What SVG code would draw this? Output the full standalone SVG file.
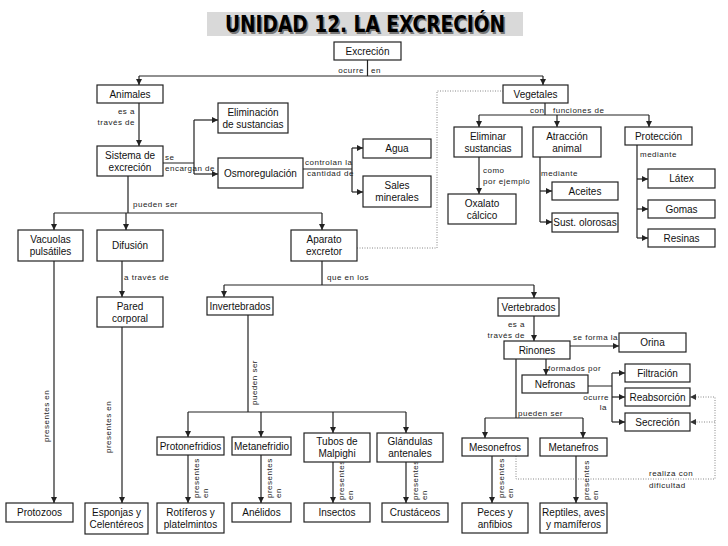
<svg xmlns="http://www.w3.org/2000/svg" width="728" height="546" viewBox="0 0 728 546">
<defs>
<style>
.b{fill:#fff;stroke:#222;stroke-width:1.2}
.t{font-family:"Liberation Sans",Arial,sans-serif;font-size:10px;text-anchor:middle;fill:#111}
.l{font-family:"Liberation Sans",Arial,sans-serif;font-size:8px;letter-spacing:0.5px;fill:#222}
.e{text-anchor:end}
.c{fill:none;stroke:#222;stroke-width:1.2}
.a{marker-end:url(#ar)}
.d{fill:none;stroke:#888;stroke-width:1;stroke-dasharray:1 1.5}
.title{font-family:"DejaVu Sans Condensed","DejaVu Sans",sans-serif;font-weight:bold;font-size:23px;text-anchor:middle}
</style>
<marker id="ar" viewBox="0 0 10 10" refX="10" refY="5" markerWidth="7" markerHeight="6" markerUnits="userSpaceOnUse" orient="auto"><path d="M0,0 L10,5 L0,10 z" fill="#222"/></marker>
<marker id="ad" viewBox="0 0 10 10" refX="10" refY="5" markerWidth="7" markerHeight="6" markerUnits="userSpaceOnUse" orient="auto"><path d="M0,0 L10,5 L0,10 z" fill="#333"/></marker>
</defs>
<rect width="728" height="546" fill="#fff"/>
<g id="title">
<rect x="207" y="12" width="316" height="24" fill="#d9d9d9"/>
<text class="title" x="366.5" y="33.5" textLength="280" lengthAdjust="spacingAndGlyphs" fill="#777">UNIDAD 12. LA EXCRECIÓN</text>
<text class="title" x="365" y="32" textLength="280" lengthAdjust="spacingAndGlyphs" fill="#000">UNIDAD 12. LA EXCRECIÓN</text>
</g>
<g id="connectors">
<path class="c" d="M367.5,60 V76 M139,76 H543 M163,163 H194 M194,120 V174 M303,169 H352 M352,148 V192 M128,176 V213 M54,213 H322 M322,261 V285 M224,285 H534 M248,315 V412 M188,412 H406 M545,103 V115 M479,115 H649 M540,157 V222 M637,145 V238 M588,386 H612 M612,373 V422 M516,359 V418 M485,418 H583"/>
<path class="c a" d="M139,76 V85"/>
<path class="c a" d="M543,76 V85"/>
<path class="c a" d="M139,103 V146"/>
<path class="c a" d="M194,120 H218"/>
<path class="c a" d="M194,174 H218"/>
<path class="c a" d="M352,148 H363"/>
<path class="c a" d="M352,192 H363"/>
<path class="c a" d="M54,213 V230"/>
<path class="c a" d="M126,213 V230"/>
<path class="c a" d="M322,213 V230"/>
<path class="c a" d="M122,261 V297"/>
<path class="c a" d="M54,261 V503"/>
<path class="c a" d="M122,327 V503"/>
<path class="c a" d="M224,285 V297"/>
<path class="c a" d="M534,285 V298"/>
<path class="c a" d="M188,412 V437"/>
<path class="c a" d="M261,412 V437"/>
<path class="c a" d="M333,412 V433"/>
<path class="c a" d="M406,412 V433"/>
<path class="c a" d="M188,455 V503"/>
<path class="c a" d="M261,455 V503"/>
<path class="c a" d="M333,462 V503"/>
<path class="c a" d="M406,462 V503"/>
<path class="c a" d="M479,115 V127"/>
<path class="c a" d="M557,115 V127"/>
<path class="c a" d="M649,115 V127"/>
<path class="c a" d="M479,157 V194"/>
<path class="c a" d="M540,191 H552"/>
<path class="c a" d="M540,222 H552"/>
<path class="c a" d="M637,179 H648"/>
<path class="c a" d="M637,209 H648"/>
<path class="c a" d="M637,238 H648"/>
<path class="c a" d="M534,316 V341"/>
<path class="c a" d="M570,346 H619"/>
<path class="c a" d="M546,359 V375"/>
<path class="c a" d="M612,373 H625"/>
<path class="c a" d="M612,397 H625"/>
<path class="c a" d="M612,422 H625"/>
<path class="c a" d="M485,418 V438"/>
<path class="c a" d="M583,418 V438"/>
<path class="c a" d="M492,456 V503"/>
<path class="c a" d="M576,456 V503"/>
<path class="d" d="M357,248 H437 V91 H503"/>
<path class="d" d="M516,456 V479 H715 V397 H690" marker-end="url(#ad)"/>
<path class="d" d="M715,422 H690" marker-end="url(#ad)"/>
<text class="l e" x="364" y="73">ocurre</text>
<text class="l" x="371" y="73">en</text>
<text class="l e" x="135" y="114">es a</text>
<text class="l e" x="135" y="125">través de</text>
<text class="l" x="165" y="160">se</text>
<text class="l" x="165" y="171">encargan de</text>
<text class="l" x="305" y="165">controlan la</text>
<text class="l" x="307" y="176">cantidad de</text>
<text class="l" x="133" y="207">pueden ser</text>
<text class="l" x="124" y="280">a través de</text>
<text class="l" x="327" y="280">que en los</text>
<text class="l" x="530" y="113">con</text>
<text class="l" x="553" y="113">funciones de</text>
<text class="l" x="483" y="173">como</text>
<text class="l" x="483" y="184">por ejemplo</text>
<text class="l" x="541" y="176">mediante</text>
<text class="l" x="640" y="157">mediante</text>
<text class="l e" x="525" y="327">es a</text>
<text class="l e" x="525" y="338">través de</text>
<text class="l" x="573" y="340">se forma la</text>
<text class="l" x="548" y="371">formados por</text>
<text class="l e" x="609" y="400">ocurre</text>
<text class="l e" x="607" y="410">la</text>
<text class="l" x="518" y="416">pueden ser</text>
<text class="l" x="649" y="476">realiza con</text>
<text class="l" x="649" y="488">dificultad</text>
<text class="l" transform="translate(49,442) rotate(-90)">presentes en</text>
<text class="l" transform="translate(111,453) rotate(-90)">presentes en</text>
<text class="l" transform="translate(257,405) rotate(-90)">pueden ser</text>
<text class="l" transform="translate(199,498) rotate(-90)"><tspan x="0" y="0">presentes</tspan><tspan x="0" y="9">en</tspan></text>
<text class="l" transform="translate(272,498) rotate(-90)"><tspan x="0" y="0">presentes</tspan><tspan x="0" y="9">en</tspan></text>
<text class="l" transform="translate(344,500) rotate(-90)"><tspan x="0" y="0">presentes</tspan><tspan x="0" y="9">en</tspan></text>
<text class="l" transform="translate(418,500) rotate(-90)"><tspan x="0" y="0">presentes</tspan><tspan x="0" y="9">en</tspan></text>
<text class="l" transform="translate(504,498) rotate(-90)"><tspan x="0" y="0">presentes</tspan><tspan x="0" y="9">en</tspan></text>
<text class="l" transform="translate(589,500) rotate(-90)"><tspan x="0" y="0">presentes</tspan><tspan x="0" y="9">en</tspan></text>
</g>
<g id="n-excrecion"><rect class="b" x="334" y="42" width="67" height="18"/><text class="t" x="367.5" y="55">Excreción</text></g>
<g id="n-animales"><rect class="b" x="97" y="85" width="66" height="18"/><text class="t" x="130" y="98">Animales</text></g>
<g id="n-vegetales"><rect class="b" x="503" y="85" width="65" height="18"/><text class="t" x="535.5" y="98">Vegetales</text></g>
<g id="n-sistema"><rect class="b" x="97" y="146" width="66" height="30"/><text class="t" x="130" y="158.5">Sistema de</text><text class="t" x="130" y="170.5">excreción</text></g>
<g id="n-eliminacion"><rect class="b" x="218" y="103" width="70" height="30"/><text class="t" x="253" y="115.5">Eliminación</text><text class="t" x="253" y="127.5">de sustancias</text></g>
<g id="n-osmo"><rect class="b" x="218" y="158" width="85" height="30"/><text class="t" x="260.5" y="177">Osmoregulación</text></g>
<g id="n-agua"><rect class="b" x="363" y="139" width="68" height="19"/><text class="t" x="397" y="152">Agua</text></g>
<g id="n-sales"><rect class="b" x="363" y="176" width="68" height="31"/><text class="t" x="397" y="188.5">Sales</text><text class="t" x="397" y="200.5">minerales</text></g>
<g id="n-vacuolas"><rect class="b" x="18" y="230" width="65" height="31"/><text class="t" x="50.5" y="242.5">Vacuolas</text><text class="t" x="50.5" y="254.5">pulsátiles</text></g>
<g id="n-difusion"><rect class="b" x="97" y="230" width="66" height="31"/><text class="t" x="130" y="249">Difusión</text></g>
<g id="n-aparato"><rect class="b" x="291" y="230" width="66" height="31"/><text class="t" x="324" y="242.5">Aparato</text><text class="t" x="324" y="254.5">excretor</text></g>
<g id="n-pared"><rect class="b" x="97" y="297" width="66" height="30"/><text class="t" x="130" y="309.5">Pared</text><text class="t" x="130" y="321.5">corporal</text></g>
<g id="n-invertebrados"><rect class="b" x="207" y="297" width="66" height="18"/><text class="t" x="240" y="310">Invertebrados</text></g>
<g id="n-vertebrados"><rect class="b" x="498" y="298" width="61" height="18"/><text class="t" x="528.5" y="311">Vertebrados</text></g>
<g id="n-rinones"><rect class="b" x="504" y="341" width="66" height="18"/><text class="t" x="537" y="354">Rinones</text></g>
<g id="n-orina"><rect class="b" x="619" y="333" width="67" height="19"/><text class="t" x="652.5" y="346">Orina</text></g>
<g id="n-nefronas"><rect class="b" x="522" y="375" width="66" height="18"/><text class="t" x="555" y="388">Nefronas</text></g>
<g id="n-filtracion"><rect class="b" x="625" y="364" width="65" height="18"/><text class="t" x="657.5" y="377">Filtración</text></g>
<g id="n-reabsorcion"><rect class="b" x="625" y="388" width="65" height="18"/><text class="t" x="657.5" y="401">Reabsorción</text></g>
<g id="n-secrecion"><rect class="b" x="625" y="413" width="65" height="18"/><text class="t" x="657.5" y="426">Secreción</text></g>
<g id="n-eliminar"><rect class="b" x="454" y="127" width="68" height="30"/><text class="t" x="488" y="139.5">Eliminar</text><text class="t" x="488" y="151.5">sustancias</text></g>
<g id="n-atraccion"><rect class="b" x="533" y="127" width="68" height="30"/><text class="t" x="567" y="139.5">Atracción</text><text class="t" x="567" y="151.5">animal</text></g>
<g id="n-proteccion"><rect class="b" x="625" y="127" width="67" height="18"/><text class="t" x="658.5" y="140">Protección</text></g>
<g id="n-oxalato"><rect class="b" x="448" y="194" width="68" height="30"/><text class="t" x="482" y="206.5">Oxalato</text><text class="t" x="482" y="218.5">cálcico</text></g>
<g id="n-aceites"><rect class="b" x="552" y="182" width="66" height="18"/><text class="t" x="585" y="195">Aceites</text></g>
<g id="n-sust"><rect class="b" x="552" y="213" width="66" height="19"/><text class="t" x="585" y="226">Sust. olorosas</text></g>
<g id="n-latex"><rect class="b" x="648" y="169" width="67" height="19"/><text class="t" x="681.5" y="182">Látex</text></g>
<g id="n-gomas"><rect class="b" x="648" y="200" width="67" height="18"/><text class="t" x="681.5" y="213">Gomas</text></g>
<g id="n-resinas"><rect class="b" x="648" y="229" width="67" height="18"/><text class="t" x="681.5" y="242">Resinas</text></g>
<g id="n-protonefridios"><rect class="b" x="157" y="437" width="67" height="18"/><text class="t" x="190.5" y="450">Protonefridios</text></g>
<g id="n-metanefridio"><rect class="b" x="232" y="437" width="59" height="18"/><text class="t" x="261.5" y="450">Metanefridio</text></g>
<g id="n-tubos"><rect class="b" x="304" y="433" width="66" height="29"/><text class="t" x="337" y="445">Tubos de</text><text class="t" x="337" y="457">Malpighi</text></g>
<g id="n-glandulas"><rect class="b" x="377" y="433" width="66" height="29"/><text class="t" x="410" y="445">Glándulas</text><text class="t" x="410" y="457">antenales</text></g>
<g id="n-mesonefros"><rect class="b" x="462" y="438" width="66" height="18"/><text class="t" x="495" y="451">Mesonefros</text></g>
<g id="n-metanefros"><rect class="b" x="540" y="438" width="67" height="18"/><text class="t" x="573.5" y="451">Metanefros</text></g>
<g id="n-protozoos"><rect class="b" x="6" y="503" width="67" height="19"/><text class="t" x="39.5" y="516">Protozoos</text></g>
<g id="n-esponjas"><rect class="b" x="85" y="503" width="63" height="31"/><text class="t" x="116.5" y="515.5">Esponjas y</text><text class="t" x="116.5" y="527.5">Celentéreos</text></g>
<g id="n-rotiferos"><rect class="b" x="157" y="503" width="67" height="30"/><text class="t" x="190.5" y="515.5">Rotíferos y</text><text class="t" x="190.5" y="527.5">platelmintos</text></g>
<g id="n-anelidos"><rect class="b" x="232" y="503" width="59" height="19"/><text class="t" x="261.5" y="516">Anélidos</text></g>
<g id="n-insectos"><rect class="b" x="304" y="503" width="66" height="19"/><text class="t" x="337" y="516">Insectos</text></g>
<g id="n-crustaceos"><rect class="b" x="382" y="503" width="66" height="19"/><text class="t" x="415" y="516">Crustáceos</text></g>
<g id="n-peces"><rect class="b" x="462" y="503" width="66" height="30"/><text class="t" x="495" y="515.5">Peces y</text><text class="t" x="495" y="527.5">anfibios</text></g>
<g id="n-reptiles"><rect class="b" x="540" y="503" width="67" height="30"/><text class="t" x="573.5" y="515.5">Reptiles, aves</text><text class="t" x="573.5" y="527.5">y mamíferos</text></g>
</svg>
